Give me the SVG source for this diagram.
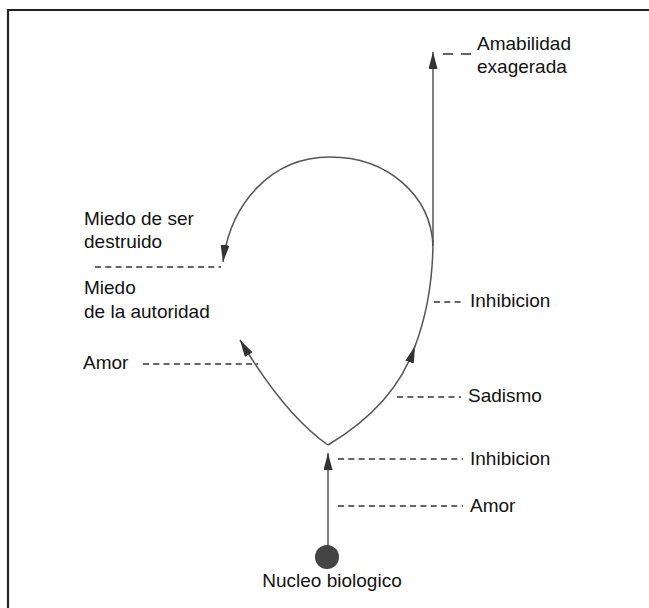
<svg xmlns="http://www.w3.org/2000/svg" width="649" height="608" viewBox="0 0 649 608">
<style>
.t{font-family:"Liberation Sans",Arial,sans-serif;font-size:19px;fill:#111}
.c{fill:none;stroke:#555;stroke-width:1.5}
.d{fill:none;stroke:#333;stroke-width:1.4;stroke-dasharray:6 4.3}
</style>
<defs>
<marker id="ah" markerUnits="userSpaceOnUse" markerWidth="18" markerHeight="10" refX="17" refY="4.5" orient="auto">
<path d="M0,0 L17,4.5 L0,9 z" fill="#333"/>
</marker>
</defs>
<rect width="649" height="608" fill="#fff"/>
<path d="M8,608 L8,10 L649,10" fill="none" stroke="#222" stroke-width="2.2"/>
<g id="connectors">
<path class="c" d="M433,242 L433,52" marker-end="url(#ah)"/>
<path class="c" d="M433,246 C431,195 387,157 330,157 C270,157 230,205 223,262" marker-end="url(#ah)"/>
<path class="c" d="M328,445 Q395,405 415,346" marker-end="url(#ah)"/>
<path class="c" d="M414,349 Q433,300 433,240"/>
<path class="c" d="M328,445 Q285,415 240,340" marker-end="url(#ah)"/>
<path class="c" d="M328,546 L328,453" marker-end="url(#ah)"/>
</g>
<g id="nucleo">
<circle cx="327" cy="557" r="12" fill="#444"/>
<text class="t" x="332" y="587" text-anchor="middle">Nucleo biologico</text>
</g>
<g id="amabilidad">
<path class="d" d="M443,54 L471,54" style="stroke-dasharray:10 8"/>
<text class="t" x="477" y="50">Amabilidad</text>
<text class="t" x="477" y="73">exagerada</text>
</g>
<g id="miedo">
<text class="t" x="84" y="225">Miedo de ser</text>
<text class="t" x="84" y="248">destruido</text>
<path class="d" d="M95,267 L221,267"/>
<text class="t" x="84" y="294">Miedo</text>
<text class="t" x="84" y="318">de la autoridad</text>
</g>
<g id="amor-left">
<text class="t" x="83" y="369">Amor</text>
<path class="d" d="M143,364 L258,364"/>
</g>
<g id="inhibicion-upper">
<path class="d" d="M434,302 L463,302"/>
<text class="t" x="470" y="307">Inhibicion</text>
</g>
<g id="sadismo">
<path class="d" d="M397,397 L461,397"/>
<text class="t" x="468" y="402">Sadismo</text>
</g>
<g id="inhibicion-lower">
<path class="d" d="M338,459 L463,459"/>
<text class="t" x="470" y="465">Inhibicion</text>
</g>
<g id="amor-lower">
<path class="d" d="M338,506 L463,506"/>
<text class="t" x="470" y="512">Amor</text>
</g>
</svg>
